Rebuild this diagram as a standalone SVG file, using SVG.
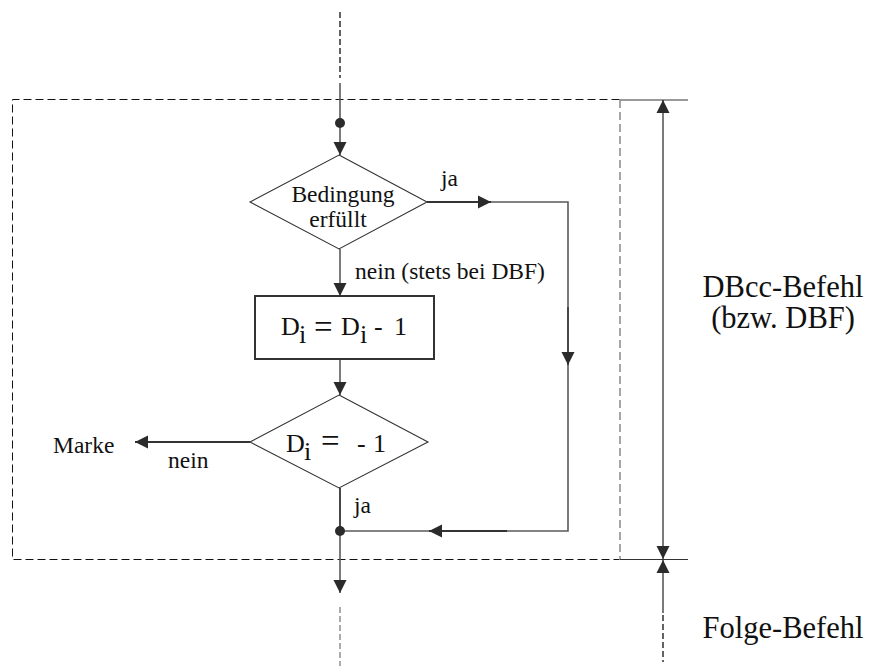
<svg xmlns="http://www.w3.org/2000/svg" width="872" height="666" viewBox="0 0 872 666">
  <defs>
    <marker id="arrow" markerUnits="userSpaceOnUse" markerWidth="14" markerHeight="14" refX="13" refY="7" orient="auto">
      <path d="M0,0.5 L13,7 L0,13.5 z" fill="#2b2b2b"/>
    </marker>
    <style>
      text { font-family: Liberation Serif, Times New Roman, Tinos, serif; fill: #111; }
      .small { font-size: 23.5px; }
      .big { font-size: 30.5px; }
      .formula { font-size: 26px; }
      .eq { font-size: 33px; }
      .flow { fill: none; stroke: #5a5a5a; stroke-width: 1.6; }
      .flowdark { fill: none; stroke: #333; stroke-width: 1.8; }
      .shape { fill: #fff; stroke: #333; stroke-width: 1.1; }
      .box { fill: #fff; stroke: #333; stroke-width: 2; }
      .frame { fill: none; stroke: #111; stroke-width: 1; stroke-dasharray: 8 4; }
      .frame-side { fill: none; stroke: #777; stroke-width: 1.3; stroke-dasharray: 8 4; }
      .guide { fill: none; stroke: #222; stroke-width: 1.4; stroke-dasharray: 6 3; }
      .guide-grey { fill: none; stroke: #888; stroke-width: 1.4; stroke-dasharray: 6 3; }
      .dim { fill: none; stroke: #222; stroke-width: 1.2; }
      .dot { fill: #2b2b2b; }
    </style>
  </defs>

  <rect width="872" height="666" fill="#fff"/>

  <!-- dashed frame around the DBcc block -->
  <g id="frame">
    <path class="frame" d="M619.5,99.5 L12.5,99.5 L12.5,559.5 L619.5,559.5"/>
    <path class="frame-side" d="M620,100 L620,559"/>
  </g>

  <!-- dimension lines on the right -->
  <g id="dimensions">
    <line x1="620" y1="100" x2="688" y2="100" stroke="#999" stroke-width="2"/>
    <line x1="620" y1="559.5" x2="688" y2="559.5" stroke="#333" stroke-width="1"/>
    <line class="dim" x1="663" y1="330" x2="663" y2="100" marker-end="url(#arrow)"/>
    <line class="dim" x1="663" y1="330" x2="663" y2="559" marker-end="url(#arrow)"/>
    <line class="dim" x1="663" y1="613" x2="663" y2="560" marker-end="url(#arrow)"/>
    <line class="guide" x1="663" y1="615" x2="663" y2="662"/>
  </g>

  <!-- connectors -->
  <g id="connectors">
    <line class="guide" x1="340" y1="12" x2="340" y2="78"/>
    <line class="flow" x1="340" y1="83" x2="340" y2="155" marker-end="url(#arrow)"/>
    <!-- ja branch of the first decision -->
    <line class="flowdark" x1="427" y1="202" x2="491" y2="202" marker-end="url(#arrow)"/>
    <path class="flow" d="M491,202 L568,202 L568,307"/>
    <line class="flowdark" x1="568" y1="307" x2="568" y2="365" marker-end="url(#arrow)"/>
    <path class="flow" d="M568,365 L568,531 L507,531"/>
    <line class="flowdark" x1="507" y1="531" x2="429" y2="531" marker-end="url(#arrow)"/>
    <line class="flow" x1="429" y1="531" x2="340" y2="531"/>
    <!-- nein branch into the decrement -->
    <line class="flow" x1="340" y1="249" x2="340" y2="296" marker-end="url(#arrow)"/>
    <line class="flow" x1="340" y1="359" x2="340" y2="395" marker-end="url(#arrow)"/>
    <!-- nein branch of the second decision -->
    <line class="flowdark" x1="250" y1="442" x2="135" y2="442" marker-end="url(#arrow)"/>
    <!-- ja branch of the second decision -->
    <line class="flowdark" x1="340" y1="488" x2="340" y2="531"/>
    <line class="flow" x1="340" y1="531" x2="340" y2="593" marker-end="url(#arrow)"/>
    <line class="guide-grey" x1="340" y1="607" x2="340" y2="666"/>
  </g>

  <g id="junction-top">
    <circle class="dot" cx="340" cy="123" r="5"/>
  </g>

  <g id="decision-condition">
    <polygon class="shape" points="339,155 427,202 339,249 250,202"/>
    <text class="small" x="343" y="202" text-anchor="middle">Bedingung</text>
    <text class="small" x="338" y="227" text-anchor="middle">erfüllt</text>
  </g>

  <g id="decrement">
    <rect class="box" x="255" y="296" width="179" height="63"/>
    <text class="formula"><tspan x="281" y="335">D</tspan><tspan x="299" y="343">i</tspan><tspan class="eq" x="314" y="338">=</tspan><tspan x="341" y="335">D</tspan><tspan x="360" y="343">i</tspan><tspan x="374" y="335">-</tspan><tspan x="394" y="335">1</tspan></text>
  </g>

  <g id="decision-counter">
    <polygon class="shape" points="339,395 428,442 339,488 250,442"/>
    <text class="formula"><tspan x="286" y="452">D</tspan><tspan x="304" y="460">i</tspan><tspan class="eq" x="321" y="452">=</tspan><tspan x="357" y="452">-</tspan><tspan x="373" y="452">1</tspan></text>
  </g>

  <g id="junction-bottom">
    <circle class="dot" cx="340" cy="531" r="5"/>
  </g>

  <g id="target-marke">
    <text class="small" x="53" y="453">Marke</text>
  </g>

  <!-- branch labels -->
  <g id="labels">
    <text class="small" x="441" y="186">ja</text>
    <text class="small" x="355" y="279">nein (stets bei DBF)</text>
    <text class="small" x="168" y="468">nein</text>
    <text class="small" x="354" y="513">ja</text>
    <text class="big" x="783" y="297" text-anchor="middle">DBcc-Befehl</text>
    <text class="big" x="783" y="328" text-anchor="middle">(bzw. DBF)</text>
    <text class="big" x="783" y="638" text-anchor="middle">Folge-Befehl</text>
  </g>
</svg>
